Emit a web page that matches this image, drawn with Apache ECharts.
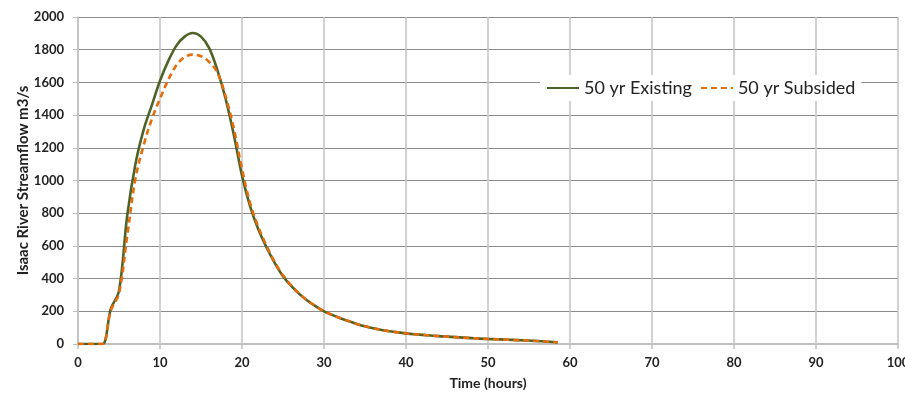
<!DOCTYPE html>
<html>
<head>
<meta charset="utf-8">
<script src="https://cdn.jsdelivr.net/npm/echarts@6/dist/echarts.min.js"></script>
<style>
html,body{margin:0;padding:0;background:#fff;}
#chart{width:905px;height:399px;}
</style>
</head>
<body>
<div id="chart"></div>
<script>
const hours = [0,1,2,3,4,5,6,7,8,9,10,11,12,13,14,15,16,17,18,19,20,21,22,23,24,25,26,27,28,29,30,31,32,33,34,35,36,37,38,39,40,41,42,43,44,45,46,47,48,49,50,51,52,53,54,55,56,57,58,58.5];
const existing = [0,0,0,0,215,325,785,1100,1310,1460,1610,1730,1825,1880,1902,1880,1810,1675,1500,1280,1030,840,700,590,495,415,355,305,265,230,200,178,158,140,123,108,96,86,78,71,65,60,56,52,48,45,42,39,36,33,31,29,27,25,23,21,18,15,12,10];
const subsided = [0,0,0,0,205,310,660,1010,1215,1375,1500,1615,1705,1755,1770,1760,1725,1660,1515,1320,1070,860,715,600,500,420,358,307,266,231,200,178,158,140,123,108,96,86,78,71,65,60,56,52,48,45,42,39,36,33,31,29,27,25,23,21,18,15,12,10];
const seriesNames = ['50 yr Existing', '50 yr Subsided'];
const xTicks = {min:0, max:100, interval:10};
const yTicks = {min:0, max:2000, interval:200};

const pair = (vals) => hours.map((h,i) => [h, vals[i]]);
const font = 'Lato, "Open Sans", sans-serif';
const chart = echarts.init(document.getElementById('chart'));
chart.setOption({
  animation:false,
  backgroundColor:'#fff',
  grid:{left:78, right:7, top:17, bottom:55, containLabel:false, outerBoundsMode:'none'},
  legend:{
    left:540, top:75,
    backgroundColor:'#fff',
    padding:[4,6,4,6],
    itemWidth:32, itemHeight:14, itemGap:8,
    itemStyle:{opacity:0},
    textStyle:{fontFamily:font, fontSize:18, color:'#222'},
    data:seriesNames
  },
  xAxis:{
    type:'value', min:xTicks.min, max:xTicks.max, interval:xTicks.interval,
    name:'Time (hours)', nameLocation:'middle', nameGap:32, nameMoveOverlap:false,
    nameTextStyle:{fontFamily:font, fontWeight:'bold', fontSize:14, color:'#222'},
    axisLine:{show:true, lineStyle:{color:'#bfbfbf', width:2}},
    axisTick:{show:true, length:5, lineStyle:{color:'#bfbfbf', width:1.5}},
    axisLabel:{fontFamily:font, fontWeight:'bold', fontSize:13, color:'#222', margin:12},
    splitLine:{show:true, lineStyle:{color:'#c3c3c3', width:1.5}}
  },
  yAxis:{
    type:'value', min:yTicks.min, max:yTicks.max, interval:yTicks.interval,
    name:'Isaac River Streamflow m3/s', nameLocation:'middle', nameGap:47, nameRotate:90, nameMoveOverlap:false,
    nameTextStyle:{fontFamily:font, fontWeight:'bold', fontSize:15, color:'#222'},
    axisLine:{show:true, lineStyle:{color:'#bfbfbf', width:1.5}},
    axisTick:{show:true, length:5, lineStyle:{color:'#bfbfbf', width:1}},
    axisLabel:{fontFamily:font, fontWeight:'bold', fontSize:13, color:'#222', margin:14, formatter:(v) => String(v)},
    splitLine:{show:true, lineStyle:{color:'#8c8c8c', width:1}}
  },
  series:[
    {name:seriesNames[0], type:'line', data:pair(existing), symbol:'none', smooth:0.35,
     lineStyle:{color:'#4f6228', width:2.6}, itemStyle:{color:'#4f6228'}, z:2},
    {name:seriesNames[1], type:'line', data:pair(subsided), symbol:'none', smooth:0.35,
     lineStyle:{color:'#e46c0a', width:2.6, type:[6,4]}, itemStyle:{color:'#e46c0a'}, z:3}
  ]
});
</script>
</body>
</html>
